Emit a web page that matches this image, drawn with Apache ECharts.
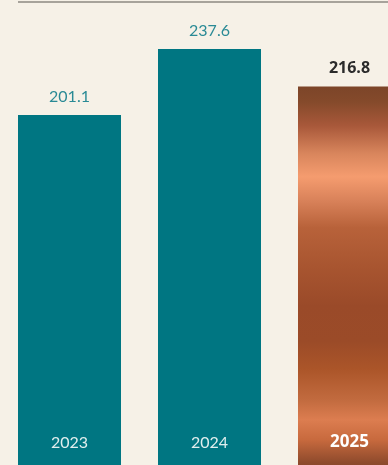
<!DOCTYPE html>
<html>
<head>
<meta charset="utf-8">
<style>
  html, body { margin: 0; padding: 0; background: #f6f1e7; }
  #chart { width: 388px; height: 465px; }
</style>
<script src="https://cdn.jsdelivr.net/npm/echarts@6/dist/echarts.min.js"></script>
</head>
<body>
<div id="chart"></div>
<script>
// Annual totals
const years = ['2023', '2024', '2025'];
const totals = [201.1, 237.6, 216.8];

const TEAL = '#007682';

// Copper sheen for the highlighted year
const copper = new echarts.graphic.LinearGradient(0, 0, 0, 1, [
  { offset: 0.00, color: '#7c4529' },
  { offset: 0.04, color: '#854a2b' },
  { offset: 0.10, color: '#a8583a' },
  { offset: 0.17, color: '#d8855c' },
  { offset: 0.23, color: '#f59c6f' },
  { offset: 0.29, color: '#d9825a' },
  { offset: 0.36, color: '#b8623a' },
  { offset: 0.46, color: '#a85530' },
  { offset: 0.56, color: '#9a4a29' },
  { offset: 0.65, color: '#9b4b28' },
  { offset: 0.72, color: '#ab5529' },
  { offset: 0.80, color: '#c26b3f' },
  { offset: 0.85, color: '#dc7d50' },
  { offset: 0.90, color: '#c86a3e' },
  { offset: 0.96, color: '#8e4a2c' },
  { offset: 1.00, color: '#80452a' }
]);

const chart = echarts.init(document.getElementById('chart'), null, { renderer: 'canvas' });

const seriesData = totals.map((v, i) => {
  if (i === totals.length - 1) {
    return {
      value: v,
      itemStyle: { color: copper },
      label: { color: '#2b2b2b', fontWeight: 'bold', fontFamily: 'Open Sans' }
    };
  }
  return { value: v };
});

chart.setOption({
  backgroundColor: '#f6f1e7',
  animation: false,
  // The plot runs past the right and bottom edges so the last bar is cut off
  grid: {
    left: -0.5, top: 3, width: 420, height: 475.6,
    containLabel: false,
    outerBoundsMode: 'none'
  },
  xAxis: {
    type: 'category',
    data: years.map((y, i) => i === years.length - 1
      ? { value: y, textStyle: { color: '#ffffff', fontWeight: 'bold', fontFamily: 'Open Sans', fontSize: 17 } }
      : y),
    axisLine: { show: false },
    axisTick: { show: false },
    axisLabel: {
      inside: true,
      margin: 28,
      color: '#e0eeee',
      fontSize: 16,
      fontFamily: 'Lato',
      fontWeight: 'normal'
    },
    z: 10
  },
  yAxis: {
    type: 'value',
    min: 0,
    max: 263,
    show: false,
    splitLine: { show: false }
  },
  series: [{
    type: 'bar',
    data: seriesData,
    barWidth: 103,
    itemStyle: { color: TEAL },
    label: {
      show: true,
      position: 'top',
      distance: 10,
      fontSize: 16,
      fontFamily: 'Lato',
      fontWeight: 'normal',
      color: '#2a8a95',
      formatter: p => p.value.toFixed(1)
    }
  }],
  graphic: [{
    type: 'line',
    shape: { x1: 18, y1: 2, x2: 388, y2: 2 },
    style: { stroke: '#8d8882', lineWidth: 1.5 }
  }]
});
</script>
</body>
</html>
